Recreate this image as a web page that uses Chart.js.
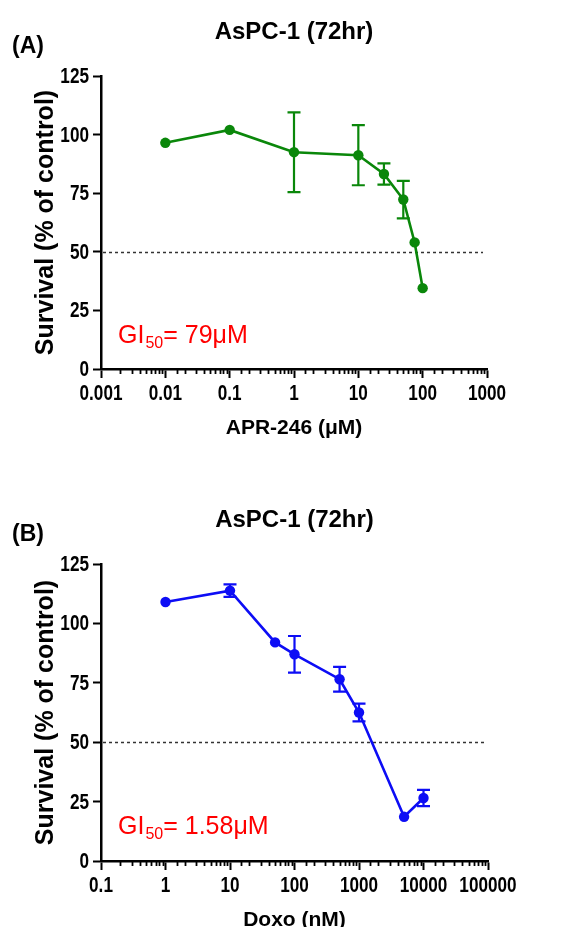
<!DOCTYPE html>
<html>
<head>
<meta charset="utf-8">
<script src="https://cdn.jsdelivr.net/npm/chart.js@4"></script>
<style>
  body { margin: 0; background: #fff; overflow: hidden; }
  .panel { position: absolute; left: 0; width: 587px; }
  #panelA { top: 0; }
  #panelB { top: 455px; }
</style>
</head>
<body>
<div class="panel" id="panelA"><canvas id="chartA" width="587" height="455"></canvas></div>
<div class="panel" id="panelB"><canvas id="chartB" width="587" height="490"></canvas></div>
<script>
// panel A - APR-246
const aDose = [0.01, 0.1, 1, 10, 25, 50, 75, 100];
const aSurv = [96.5, 102, 92.5, 91.2, 83.2, 72.3, 54, 34.5];
const aErr  = [0, 0, 17, 12.8, 4.5, 8, 0, 0];

// panel B - Doxo
const bDose = [1, 10, 50, 100, 500, 1000, 5000, 10000];
const bSurv = [109, 113.8, 92, 87, 76.5, 62.5, 18.6, 26.5];
const bErr  = [0, 2.6, 0, 7.7, 5.2, 3.7, 0, 3.4];

const yTicks = [0, 25, 50, 75, 100, 125];
const cutoff = 50;

const titleText = 'AsPC-1 (72hr)';
const yTitle = 'Survival (% of control)';

const BOLD = "'Liberation Sans', Arial, sans-serif";

const isDecade = v => {
  const l = Math.log10(v);
  return Math.abs(l - Math.round(l)) < 1e-6;
};

const decoPlugin = {
  id: 'deco',
  beforeDatasetsDraw(chart, args, opts) {
    const { ctx, chartArea, scales: { x, y } } = chart;
    // dashed cutoff line
    const yy = Math.round(y.getPixelForValue(cutoff)) + 0.5;
    ctx.save();
    ctx.setLineDash([3, 3]);
    ctx.strokeStyle = '#333';
    ctx.lineWidth = 1.5;
    ctx.beginPath();
    ctx.moveTo(chartArea.left + 2, yy);
    ctx.lineTo(chartArea.right - 4, yy);
    ctx.stroke();
    ctx.restore();

    // error bars
    ctx.save();
    ctx.strokeStyle = opts.color;
    ctx.lineWidth = 2.2;
    opts.dose.forEach((d, i) => {
      const e = opts.err[i];
      if (!e) return;
      const px = x.getPixelForValue(d);
      const top = y.getPixelForValue(opts.surv[i] + e);
      const bot = y.getPixelForValue(opts.surv[i] - e);
      ctx.beginPath();
      ctx.moveTo(px, top); ctx.lineTo(px, bot);
      ctx.moveTo(px - 6.5, top); ctx.lineTo(px + 6.5, top);
      ctx.moveTo(px - 6.5, bot); ctx.lineTo(px + 6.5, bot);
      ctx.stroke();
    });
    ctx.restore();
  },
  afterDraw(chart, args, opts) {
    const { ctx, chartArea, scales: { x, y } } = chart;
    ctx.save();
    // minor ticks on the log axis
    ctx.strokeStyle = '#000';
    ctx.lineWidth = 1.8;
    x.ticks.forEach(t => {
      if (isDecade(t.value)) return;
      const px = Math.round(x.getPixelForValue(t.value)) + 0.5;
      ctx.beginPath();
      ctx.moveTo(px, chartArea.bottom);
      ctx.lineTo(px, chartArea.bottom + 5);
      ctx.stroke();
    });

    // tick labels, condensed like the original
    ctx.fillStyle = '#000';
    ctx.font = 'bold 22px ' + BOLD;
    ctx.textBaseline = 'middle';
    y.ticks.forEach(t => {
      ctx.save();
      ctx.translate(chartArea.left - 12, y.getPixelForValue(t.value) + 1);
      ctx.scale(0.78, 1);
      ctx.textAlign = 'right';
      ctx.fillText(String(t.value), 0, 0);
      ctx.restore();
    });
    x.ticks.forEach(t => {
      if (!isDecade(t.value)) return;
      ctx.save();
      ctx.translate(x.getPixelForValue(t.value), chartArea.bottom + 25);
      ctx.scale(0.78, 1);
      ctx.textAlign = 'center';
      ctx.fillText(t.label, 0, 0);
      ctx.restore();
    });

    // title + panel letter
    ctx.textAlign = 'center';
    ctx.font = 'bold 24px ' + BOLD;
    ctx.fillText(titleText, (chartArea.left + chartArea.right) / 2, chartArea.top - 44);
    ctx.textAlign = 'left';
    ctx.font = 'bold 23px ' + BOLD;
    ctx.fillText(opts.letter, 12, chartArea.top - 29);

    // GI50 note
    ctx.fillStyle = '#ff0000';
    ctx.textBaseline = 'alphabetic';
    let gx = chartArea.left + 17;
    const gy = y.getPixelForValue(11.2);
    ctx.font = '25px ' + BOLD;
    ctx.fillText(opts.gi[0], gx, gy);
    gx += ctx.measureText(opts.gi[0]).width + 1;
    ctx.font = '16px ' + BOLD;
    ctx.fillText(opts.gi[1], gx, gy + 5);
    gx += ctx.measureText(opts.gi[1]).width;
    ctx.font = '25px ' + BOLD;
    ctx.fillText(opts.gi[2], gx, gy);
    ctx.restore();
  }
};

const makeChart = (id, cfg) => new Chart(document.getElementById(id), {
  type: 'line',
  data: {
    datasets: [{
      data: cfg.dose.map((d, i) => ({ x: d, y: cfg.surv[i] })),
      borderColor: cfg.color,
      backgroundColor: cfg.color,
      borderWidth: 2.6,
      pointRadius: 5.2,
      pointBorderWidth: 0,
      tension: 0,
      clip: false
    }]
  },
  options: {
    responsive: false,
    animation: false,
    layout: { padding: { top: cfg.top, left: 31, right: cfg.right, bottom: cfg.bottom } },
    plugins: {
      legend: { display: false },
      tooltip: { enabled: false },
      deco: { color: cfg.color, dose: cfg.dose, surv: cfg.surv, err: cfg.err, letter: cfg.letter, gi: cfg.gi }
    },
    scales: {
      x: {
        type: 'logarithmic',
        min: cfg.xMin,
        max: cfg.xMax,
        afterFit: s => { s.height = 72; },
        border: { color: '#000', width: 2.5 },
        grid: {
          drawOnChartArea: false,
          tickLength: 9,
          tickWidth: 2,
          tickColor: c => (c.tick && isDecade(c.tick.value)) ? '#000' : 'rgba(0,0,0,0)'
        },
        ticks: {
          autoSkip: false,
          maxRotation: 0,
          padding: 4,
          color: 'rgba(0,0,0,0)',
          font: { family: BOLD, size: 17, weight: 'bold' },
          callback: v => isDecade(v) ? String(v) : ''
        },
        title: {
          display: true,
          text: cfg.xTitle,
          color: '#000',
          padding: 0,
          font: { family: BOLD, size: 21, weight: 'bold', lineHeight: 1.2 }
        }
      },
      y: {
        min: 0,
        max: 125,
        afterFit: s => { s.width = 70; },
        afterBuildTicks: s => { s.ticks = yTicks.map(v => ({ value: v })); },
        border: { color: '#000', width: 2.5 },
        grid: { drawOnChartArea: false, tickLength: 8, tickWidth: 2, tickColor: '#000' },
        ticks: {
          padding: 4,
          color: 'rgba(0,0,0,0)',
          font: { family: BOLD, size: 17, weight: 'bold' }
        },
        title: {
          display: true,
          text: yTitle,
          color: '#000',
          padding: 0,
          font: { family: BOLD, size: 25, weight: 'bold', lineHeight: 1.2 }
        }
      }
    }
  },
  plugins: [decoPlugin]
});

makeChart('chartA', {
  dose: aDose, surv: aSurv, err: aErr,
  color: '#0a870a',
  xMin: 0.001, xMax: 1000,
  xTitle: 'APR-246 (μM)',
  letter: '(A)',
  gi: ['GI', '50', '= 79μM'],
  top: 76, right: 100, bottom: 14
});

makeChart('chartB', {
  dose: bDose, surv: bSurv, err: bErr,
  color: '#0d0df5',
  xMin: 0.1, xMax: 100000,
  xTitle: 'Doxo (nM)',
  letter: '(B)',
  gi: ['GI', '50', '= 1.58μM'],
  top: 109, right: 99, bottom: 12
});
</script>
</body>
</html>
